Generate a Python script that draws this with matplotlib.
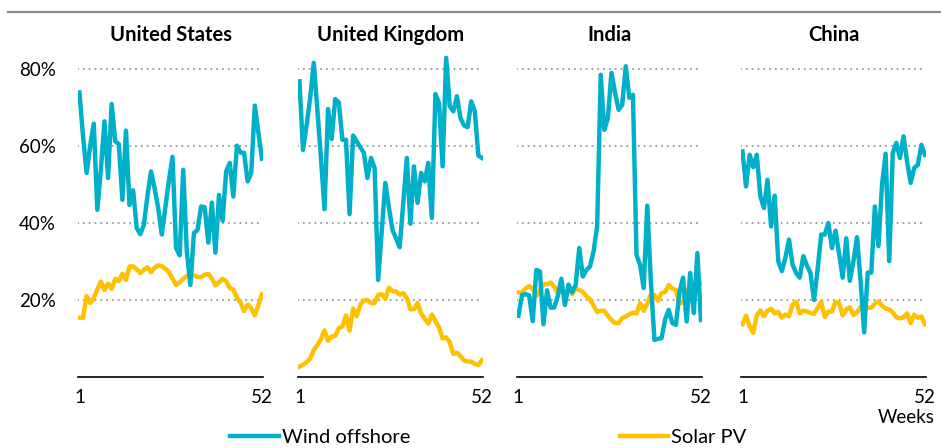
import matplotlib
matplotlib.use("Agg")
import matplotlib.pyplot as plt
from matplotlib.lines import Line2D

plt.rcParams['font.family'] = ['Lato', 'DejaVu Sans']

weeks = list(range(1, 53))
countries = ['United States', 'United Kingdom', 'India', 'China']

# weekly capacity factors (%)
us_wind = [73.9, 62.6, 53.0, 60.0, 65.8, 43.4, 54.0, 66.4, 51.7, 70.9,
           61.2, 60.5, 46.0, 64.0, 44.7, 48.5, 38.7, 37.1, 39.5, 47.0,
           53.4, 49.0, 44.0, 37.0, 44.0, 51.0, 57.2, 33.5, 31.6, 53.8,
           32.6, 23.9, 37.4, 38.2, 44.3, 44.1, 34.9, 45.3, 32.3, 47.3,
           40.6, 53.4, 55.6, 46.9, 60.1, 58.3, 58.2, 50.8, 53.0, 70.5,
           63.5, 56.7]
us_solar = [15.4, 15.4, 21.0, 19.2, 20.5, 22.7, 24.8, 22.6, 24.2, 22.9,
            25.5, 24.9, 26.8, 25.2, 28.7, 28.7, 28.0, 27.0, 27.8, 28.5,
            27.2, 28.4, 29.0, 28.8, 28.1, 27.3, 25.5, 23.9, 24.6, 25.5,
            26.2, 26.3, 26.4, 26.0, 25.9, 26.6, 26.8, 25.6, 23.8, 24.6,
            25.5, 24.9, 23.1, 22.7, 20.6, 19.3, 17.1, 18.8, 17.9, 16.0,
            18.6, 21.5]

uk_wind = [76.8, 59.0, 65.4, 72.5, 81.6, 69.5, 57.0, 43.6, 69.6, 61.8,
           72.2, 71.3, 61.6, 61.6, 42.3, 62.7, 61.2, 59.7, 58.2, 51.7,
           56.9, 54.3, 25.2, 38.0, 50.4, 44.0, 38.2, 36.0, 33.7, 45.0,
           56.9, 39.8, 54.7, 45.2, 53.0, 50.8, 55.6, 41.3, 73.5, 71.2,
           54.7, 82.9, 70.3, 69.0, 72.9, 67.3, 65.3, 64.9, 71.6, 69.0,
           57.5, 56.9]
uk_solar = [2.7, 3.2, 3.8, 4.8, 7.0, 8.3, 9.8, 12.1, 9.4, 10.5,
            10.7, 12.7, 13.1, 16.0, 12.0, 17.8, 15.8, 18.8, 19.9, 20.0,
            19.2, 19.2, 21.3, 21.5, 20.3, 23.2, 22.3, 22.2, 21.4, 21.8,
            20.5, 17.6, 17.6, 19.2, 16.5, 15.1, 13.9, 16.2, 14.5, 12.9,
            10.0, 10.3, 9.0, 6.0, 6.3, 5.4, 4.3, 4.0, 4.0, 3.4,
            3.1, 4.4]

india_wind = [15.9, 21.3, 21.5, 21.2, 14.5, 27.8, 27.4, 13.7, 22.5, 18.0,
              18.0, 21.0, 25.5, 18.7, 24.0, 22.0, 23.9, 33.5, 26.1, 27.8,
              28.7, 32.6, 39.1, 78.5, 64.2, 67.3, 79.0, 73.8, 69.4, 70.7,
              80.7, 72.5, 73.3, 31.7, 29.1, 23.1, 44.5, 25.0, 9.6, 9.9,
              10.1, 15.0, 17.4, 14.0, 13.5, 22.0, 25.8, 14.4, 27.0, 16.6,
              32.2, 14.8]
india_solar = [22.0, 21.9, 23.0, 23.6, 23.0, 21.0, 22.5, 24.1, 24.1, 24.5,
               23.5, 21.7, 22.3, 21.3, 23.0, 21.5, 23.0, 22.6, 22.1, 21.0,
               20.2, 18.5, 16.9, 17.2, 17.2, 15.9, 14.8, 14.0, 14.0, 15.3,
               15.7, 16.3, 16.7, 16.5, 19.2, 17.2, 19.0, 21.4, 21.3, 19.8,
               21.8, 22.1, 23.9, 23.0, 22.6, 19.0, 19.5, 22.0, 23.9, 23.3,
               23.5, 24.2]

china_wind = [58.6, 49.5, 57.7, 54.5, 57.7, 46.9, 43.9, 51.2, 39.1, 47.1,
              30.1, 27.5, 31.0, 35.7, 29.2, 27.0, 25.8, 31.4, 29.0, 27.0,
              20.0, 28.0, 37.0, 37.0, 40.0, 33.5, 38.0, 32.0, 25.8, 36.0,
              25.0, 30.0, 36.3, 25.0, 11.6, 27.1, 27.1, 44.3, 34.0, 50.0,
              58.0, 30.1, 58.2, 60.8, 56.9, 62.5, 56.0, 50.4, 54.3, 55.1,
              60.3, 57.7]
china_solar = [13.7, 15.9, 13.2, 11.5, 16.0, 17.3, 15.8, 17.2, 17.7, 16.5,
               16.9, 15.4, 16.2, 15.8, 18.8, 19.5, 16.5, 17.2, 17.0, 16.6,
               16.4, 18.0, 19.5, 15.6, 17.0, 17.0, 19.5, 19.2, 16.0, 17.6,
               18.1, 16.1, 16.8, 18.2, 17.8, 18.0, 18.0, 19.0, 19.6, 18.5,
               17.8, 17.6, 16.8, 15.5, 15.2, 15.5, 16.5, 14.0, 16.2, 15.4,
               15.7, 13.7]

wind = [us_wind, uk_wind, india_wind, china_wind]
solar = [us_solar, uk_solar, india_solar, china_solar]

yticks = [20, 40, 60, 80]
wind_color = '#00AFC8'
solar_color = '#FFC000'

fig = plt.figure(figsize=(9.41, 4.48), dpi=100)
lefts = [0.0829, 0.3167, 0.5494, 0.7875]

for i, name in enumerate(countries):
    ax = fig.add_axes([lefts[i], 0.1585, 0.197, 0.7305])
    for y in yticks:
        ax.axhline(y, color='#A0A0A0', linewidth=1.6,
                   linestyle=(0, (0.01, 2.6)), dash_capstyle='round', zorder=1)
    ax.plot(weeks, wind[i], color=wind_color, linewidth=3.2,
            solid_joinstyle='round', zorder=3, label='Wind offshore')
    ax.plot(weeks, solar[i], color=solar_color, linewidth=3.2,
            solid_joinstyle='round', zorder=2, label='Solar PV')
    ax.set_xlim(0.6, 52.4)
    ax.set_ylim(0, 85)
    ax.set_xticks([1, 52])
    ax.set_xticklabels(['1', '52'])
    ax.set_yticks(yticks)
    if i == 0:
        ax.set_yticklabels([f'{v}%' for v in yticks])
    else:
        ax.set_yticklabels([])
    ax.tick_params(length=0, labelsize=13.5, pad=9)
    ax.tick_params(axis='y', pad=16)
    for s in ['top', 'right', 'left']:
        ax.spines[s].set_visible(False)
    ax.spines['bottom'].set_color('black')
    ax.spines['bottom'].set_linewidth(1.2)
    ax.set_title(name, fontsize=14.5, fontweight='bold', pad=6)
    if i == 3:
        ax.text(1.045, -0.125, 'Weeks', transform=ax.transAxes,
                ha='right', va='center', fontsize=13.5)

# grey rule along the top of the figure
fig.add_artist(Line2D([0.0085, 1.0], [0.973, 0.973], color='#8C8C8C',
                      linewidth=1.6, transform=fig.transFigure, zorder=5))

handles = [Line2D([], [], color=wind_color, linewidth=3.2),
           Line2D([], [], color=solar_color, linewidth=3.2)]
fig.legend(handles, ['Wind offshore', 'Solar PV'], loc='center',
           bbox_to_anchor=(0.519, 0.024), ncol=2, frameon=False,
           fontsize=14.5, handlelength=2.4, handletextpad=0.15,
           columnspacing=10.4, borderpad=0)

fig.savefig('out.png', dpi=100)
